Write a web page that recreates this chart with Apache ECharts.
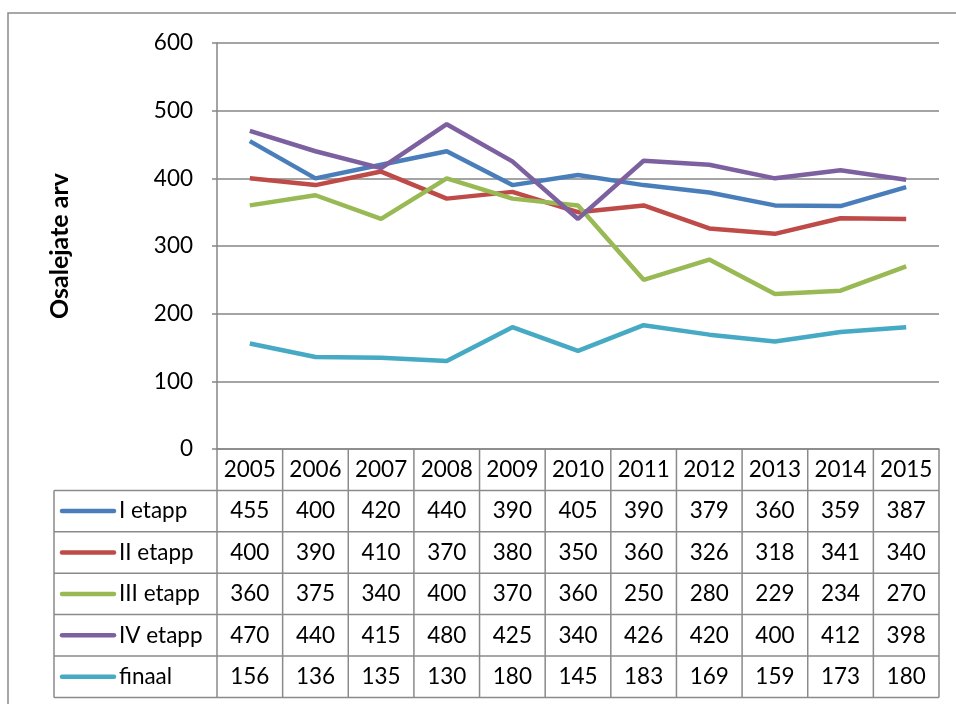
<!DOCTYPE html>
<html>
<head>
<meta charset="utf-8">
<script src="https://cdn.jsdelivr.net/npm/echarts@6/dist/echarts.min.js"></script>
<style>
  html, body { margin: 0; padding: 0; background: #fff; }
  #main { width: 956px; height: 704px; }
</style>
</head>
<body>
<div id="main"></div>
<script>
const years = ['2005', '2006', '2007', '2008', '2009', '2010', '2011', '2012', '2013', '2014', '2015'];
const seriesNames = ['I etapp', 'II etapp', 'III etapp', 'IV etapp', 'finaal'];
const etapp1 = [455, 400, 420, 440, 390, 405, 390, 379, 360, 359, 387];
const etapp2 = [400, 390, 410, 370, 380, 350, 360, 326, 318, 341, 340];
const etapp3 = [360, 375, 340, 400, 370, 360, 250, 280, 229, 234, 270];
const etapp4 = [470, 440, 415, 480, 425, 340, 426, 420, 400, 412, 398];
const finaal = [156, 136, 135, 130, 180, 145, 183, 169, 159, 173, 180];
const yTicks = [0, 100, 200, 300, 400, 500, 600];

const allData = [etapp1, etapp2, etapp3, etapp4, finaal];
const colors = ['#4A7EBB', '#BE4B48', '#98B954', '#7D60A0', '#46AAC5'];
const font = 'Lato, "Open Sans", sans-serif';
const gridColor = '#868686';
const fs = 22.5;

const chart = echarts.init(document.getElementById('main'));

chart.setOption({
  animation: false,
  textStyle: { fontFamily: font },
  grid: { left: 217, right: 17, top: 43, bottom: 255 },
  xAxis: {
    type: 'category',
    data: years,
    boundaryGap: true,
    axisLine: { lineStyle: { color: gridColor, width: 1.5 } },
    axisTick: { show: false },
    axisLabel: { show: false }
  },
  yAxis: {
    type: 'value',
    min: yTicks[0],
    max: yTicks[yTicks.length - 1],
    interval: 100,
    name: 'Osalejate arv',
    nameLocation: 'middle',
    nameRotate: 90,
    nameGap: 145,
    nameTextStyle: { fontSize: 25, fontWeight: 'bold', color: '#000', fontFamily: font },
    axisLine: { show: true, lineStyle: { color: gridColor, width: 1.5 } },
    axisTick: { show: true, length: 5, lineStyle: { color: gridColor, width: 1.5 } },
    axisLabel: { fontSize: fs, color: '#000', margin: 24, fontFamily: font },
    splitLine: { lineStyle: { color: gridColor, width: 1.5 } }
  },
  series: allData.map((d, i) => ({
    name: seriesNames[i],
    type: 'line',
    data: d,
    symbol: 'none',
    color: colors[i],
    lineStyle: { width: 4.5, color: colors[i] }
  }))
});

// data table under the plot
const c0 = chart.convertToPixel({ xAxisIndex: 0 }, years[0]);
const c1 = chart.convertToPixel({ xAxisIndex: 0 }, years[1]);
const band = c1 - c0;
const xStart = c0 - band / 2;
const xEnd = xStart + band * years.length;
const y0 = chart.convertToPixel({ yAxisIndex: 0 }, 0);
const rh = 41.4;
const tableLeft = 54;
const lineStyle = { stroke: '#8a8a8a', lineWidth: 1.5 };
const textFont = fs + 'px ' + font;
const graphics = [];

graphics.push({
  type: 'rect',
  shape: { x: 8, y: 13, width: 1000, height: 1000 },
  style: { fill: null, stroke: '#8a8a8a', lineWidth: 1.5 },
  silent: true
});

for (let k = 0; k <= years.length; k++) {
  const x = xStart + band * k;
  graphics.push({ type: 'line', shape: { x1: x, y1: y0, x2: x, y2: y0 + rh * 6 }, style: lineStyle });
}
for (let r = 1; r <= 6; r++) {
  graphics.push({ type: 'line', shape: { x1: tableLeft, y1: y0 + rh * r, x2: xEnd, y2: y0 + rh * r }, style: lineStyle });
}
graphics.push({ type: 'line', shape: { x1: tableLeft, y1: y0 + rh, x2: tableLeft, y2: y0 + rh * 6 }, style: lineStyle });

years.forEach((yr, i) => {
  graphics.push({
    type: 'text',
    x: xStart + band * (i + 0.5), y: y0 + rh / 2,
    style: { text: yr, fill: '#000', font: textFont, align: 'center', verticalAlign: 'middle' }
  });
});

allData.forEach((d, r) => {
  const cy = y0 + rh * (r + 1.5);
  graphics.push({
    type: 'line',
    shape: { x1: 62, y1: cy, x2: 114, y2: cy },
    style: { stroke: colors[r], lineWidth: 4.5, lineCap: 'round' }
  });
  graphics.push({
    type: 'text',
    x: 119, y: cy,
    style: { text: seriesNames[r], fill: '#000', font: textFont, align: 'left', verticalAlign: 'middle' }
  });
  d.forEach((v, i) => {
    graphics.push({
      type: 'text',
      x: xStart + band * (i + 0.5), y: cy,
      style: { text: String(v), fill: '#000', font: textFont, align: 'center', verticalAlign: 'middle' }
    });
  });
});

chart.setOption({ graphic: graphics });
</script>
</body>
</html>
